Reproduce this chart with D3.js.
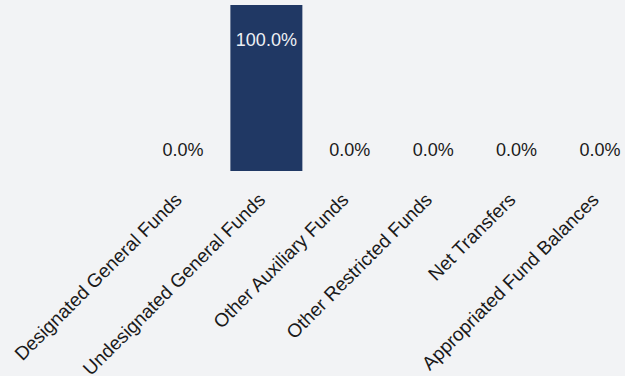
<!DOCTYPE html>
<html>
<head>
<meta charset="utf-8">
<script src="https://cdn.jsdelivr.net/npm/d3@7"></script>
<style>
  html, body { margin: 0; padding: 0; background: #f2f3f5; }
  svg { display: block; font-family: "Liberation Sans", Arial, sans-serif; }
</style>
</head>
<body>
<svg id="chart" width="625" height="376"></svg>
<script>
const categories = [
  "Designated General Funds",
  "Undesignated General Funds",
  "Other Auxiliary Funds",
  "Other Restricted Funds",
  "Net Transfers",
  "Appropriated Fund Balances"
];
const values = [0, 100, 0, 0, 0, 0];

const svg = d3.select("#chart");
const baseY = 171, topY = 5;

const x = d3.scaleBand()
  .domain(categories)
  .range([141.3, 641.7])
  .paddingInner(0.137)
  .paddingOuter(0.068);

const y = d3.scaleLinear().domain([0, 100]).range([baseY, topY]);

const data = categories.map((c, i) => ({ c, v: values[i] }));

svg.append("g").selectAll("rect")
  .data(data)
  .join("rect")
  .attr("x", d => x(d.c))
  .attr("width", x.bandwidth())
  .attr("y", d => y(Math.max(0, d.v)))
  .attr("height", d => Math.abs(y(d.v) - y(0)))
  .attr("fill", "#203864");

const fmt = d => d.toFixed(1) + "%";

svg.append("g").selectAll("text")
  .data(data)
  .join("text")
  .attr("x", d => x(d.c) + x.bandwidth() / 2)
  .attr("y", d => d.v > 50 ? y(d.v) + 41 : y(d.v) - 15)
  .attr("text-anchor", "middle")
  .attr("font-size", 18)
  .attr("fill", d => d.v > 50 ? "#eef0f4" : "#1a1a1a")
  .text(d => fmt(d.v));

// category axis, labels tilted
const axis = d3.axisBottom(x).tickSize(0).tickPadding(0);
const gx = svg.append("g").attr("transform", `translate(0,${baseY})`).call(axis);
gx.select(".domain").remove();
gx.selectAll("text")
  .attr("font-size", 19)
  .attr("font-family", "Liberation Sans, Arial, sans-serif")
  .attr("fill", "#1a1a1a")
  .attr("text-anchor", "end")
  .attr("dy", null)
  .attr("transform", "translate(0,30) rotate(-45)");
</script>
</body>
</html>
